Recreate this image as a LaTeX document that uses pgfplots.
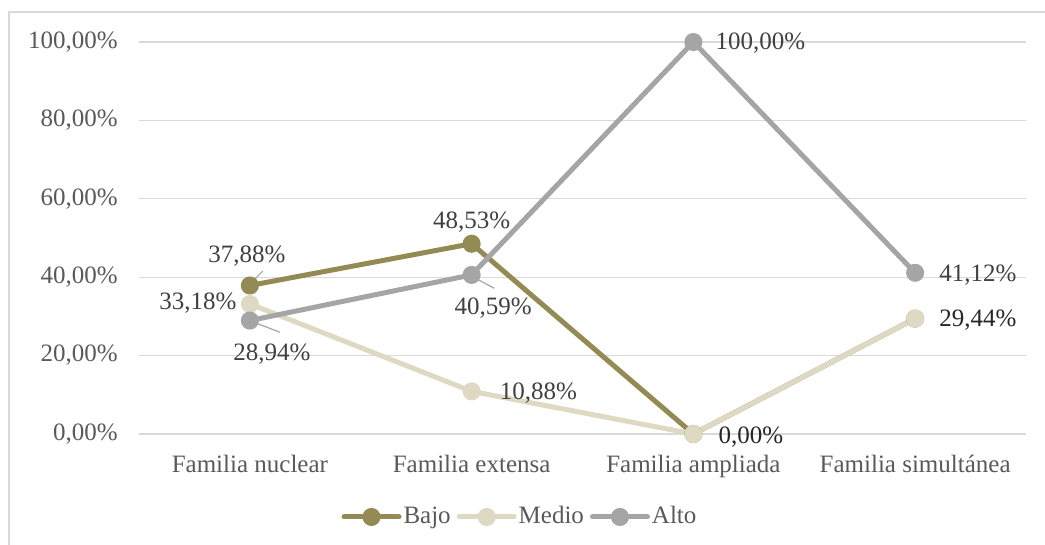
\documentclass[border=0pt]{standalone}
\usepackage{pgfplots}
\pgfplotsset{compat=1.18}
\usepackage{fontspec}
\setmainfont{Liberation Serif}

\definecolor{bajo}{HTML}{948A54}
\definecolor{medio}{HTML}{DDD9C3}
\definecolor{alto}{HTML}{A5A5A5}
\definecolor{gridc}{HTML}{D9D9D9}
\definecolor{ticktext}{HTML}{595959}
\definecolor{labtext}{HTML}{404040}
\definecolor{darktext}{HTML}{262626}

\newcommand{\chartfont}{\fontsize{25}{30}\selectfont}

\begin{document}
\begin{tikzpicture}[x=1pt,y=1pt]
  \chartfont
  \path[use as bounding box] (0,0) rectangle (1045,545);
  % chart frame (left and top edges)
  \draw[gridc, line width=1.5pt] (9,0) -- (9,533) -- (1045,533);
  \begin{axis}[
    at={(139pt,111pt)}, anchor=south west,
    scale only axis, width=887pt, height=392pt,
    xmin=-0.5, xmax=3.5, ymin=0, ymax=100,
    clip=false,
    axis line style={draw=none},
    tick style={draw=none},
    major tick length=0pt,
    xtick={0,1,2,3},
    xticklabels={Familia nuclear, Familia extensa, Familia ampliada, Familia simultánea},
    ytick={0,20,40,60,80,100},
    yticklabels={{0,00\%}, {20,00\%}, {40,00\%}, {60,00\%}, {80,00\%}, {100,00\%}},
    ymajorgrids,
    grid style={gridc, line width=1.2pt},
    ticklabel style={font=\chartfont, text=ticktext},
    yticklabel style={anchor=east, inner sep=0pt, xshift=-21pt},
    xticklabel style={anchor=north, inner sep=0pt, yshift=-21pt},
    every axis plot/.append style={line width=5pt, mark=*, mark size=6.5pt},
    legend columns=3,
    legend style={at={(0.4295,-0.2117)}, anchor=center, draw=none, fill=none,
      font=\chartfont, text=ticktext,
      /tikz/every even column/.append style={column sep=4pt},
      inner sep=0pt, nodes={inner xsep=2pt}},
    legend image code/.code={
      \draw[#1, mark=none, line cap=round] (0pt,0pt) -- (55pt,0pt);
      \fill[#1] (27.5pt,0pt) circle (6.5pt);
    },
  ]
    \addplot[color=bajo, mark options={fill=bajo, draw=bajo}]
      coordinates {(0,37.88) (1,48.53) (2,0.00) (3,29.44)};
    \addlegendentry{Bajo}
    \addplot[color=medio, mark options={fill=medio, draw=medio}]
      coordinates {(0,33.18) (1,10.88) (2,0.00) (3,29.44)};
    \addlegendentry{Medio}
    \addplot[color=alto, mark options={fill=alto, draw=alto}]
      coordinates {(0,28.94) (1,40.59) (2,100.00) (3,41.12)};
    \addlegendentry{Alto}

    % leader lines
    \draw[alto, line width=1.2pt] ([shift={(1pt,2.5pt)}]axis cs:0,37.88) -- ([shift={(13pt,14.5pt)}]axis cs:0,37.88);
    \draw[alto, line width=1.2pt] ([shift={(6.7pt,-2.7pt)}]axis cs:0,28.94) -- ([shift={(30pt,-11.7pt)}]axis cs:0,28.94);
    \draw[alto, line width=1.2pt] ([shift={(6.7pt,-5pt)}]axis cs:1,40.59) -- ([shift={(22.7pt,-13.4pt)}]axis cs:1,40.59);

    % data labels
    \begin{scope}[every node/.style={text=labtext, inner sep=0pt, font=\chartfont}]
      \node at ([shift={(-3pt,29.5pt)}]axis cs:0,37.88) {37,88\%};
      \node at ([shift={(-52pt,1pt)}]axis cs:0,33.18) {33,18\%};
      \node at ([shift={(22pt,-34pt)}]axis cs:0,28.94) {28,94\%};
      \node at ([shift={(0pt,22pt)}]axis cs:1,48.53) {48,53\%};
      \node at ([shift={(21.5pt,-33pt)}]axis cs:1,40.59) {40,59\%};
      \node[anchor=west] at ([shift={(28pt,-2pt)}]axis cs:1,10.88) {10,88\%};
      \node[anchor=west] at ([shift={(22pt,-1pt)}]axis cs:2,100) {100,00\%};
      \node[anchor=west] at ([shift={(24pt,-2pt)}]axis cs:3,41.12) {41,12\%};
      \node[anchor=west, text=darktext] at ([shift={(25pt,-3pt)}]axis cs:2,0) {0,00\%};
      \node[anchor=west, text=darktext] at ([shift={(24pt,-2pt)}]axis cs:3,29.44) {29,44\%};
    \end{scope}
  \end{axis}
\end{tikzpicture}
\end{document}
